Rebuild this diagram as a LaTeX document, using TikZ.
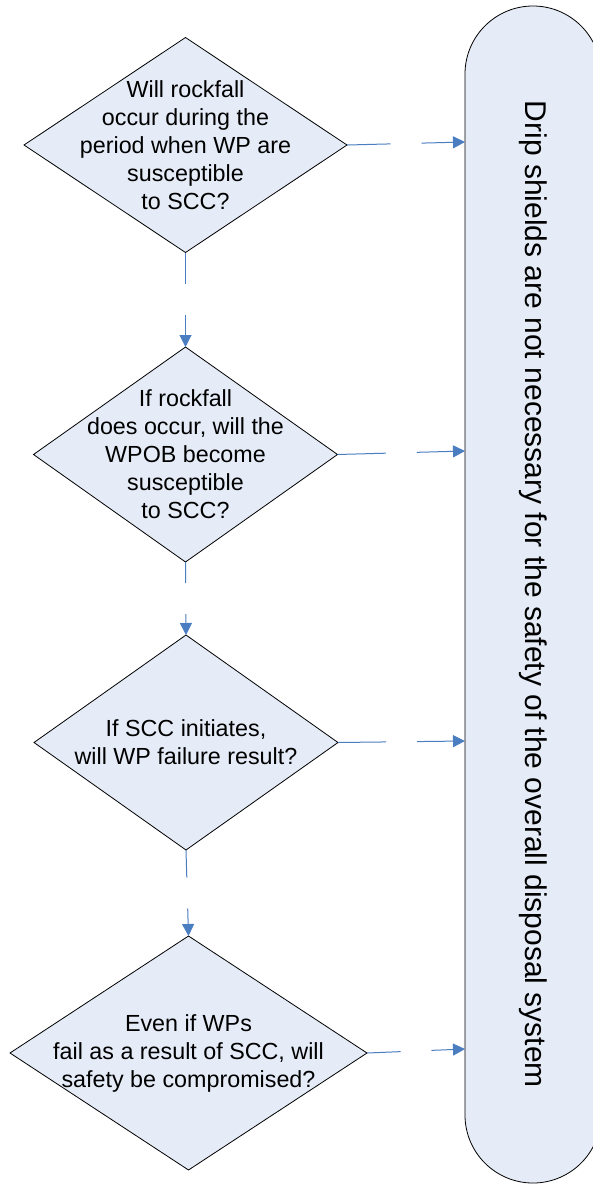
\documentclass[tikz,border=0pt]{standalone}
\usepackage{fontspec}
\setmainfont{Liberation Sans}
\usetikzlibrary{shapes.geometric,shapes.misc,arrows.meta,calc}
\definecolor{shapefill}{RGB}{229,236,247}
\definecolor{connblue}{RGB}{74,126,193}
\begin{document}
\begin{tikzpicture}[x=1pt,y=-1pt,
  decision/.style={diamond, draw=black, line width=0.8pt, fill=shapefill, outer sep=0pt,
    inner xsep=-50pt, inner ysep=-40pt, align=center, font=\fontsize{23.3pt}{28pt}\selectfont},
  terminal/.style={rounded rectangle, draw=black, line width=0.8pt, fill=shapefill, outer sep=0pt,
    inner sep=0pt, rotate=-90, minimum width=1177pt, minimum height=136pt,
    font=\fontsize{30pt}{36pt}\selectfont},
  flow/.style={draw=connblue, line width=1pt, -{Triangle[length=12pt,width=12pt]}},
  gapped/.style={to path={(\tikztostart) -- ($(\tikztostart)!.5!(\tikztotarget)!15.5pt!(\tikztostart)$)
    ($(\tikztostart)!.5!(\tikztotarget)!15.5pt!(\tikztotarget)$) -- (\tikztotarget)}}]
\useasboundingbox (0,0) rectangle (593,1184);
\fill[white] (0,0) rectangle (593,1184);
\clip (0,0) rectangle (593,1184);

\node[terminal] (box) at (533,594.5) {Drip shields are not necessary for the safety of the overall disposal system};

\node[decision, minimum width=323pt, minimum height=215pt] (d1) at (185.5,145)
  {Will rockfall\\occur during the\\period when WP are\\susceptible\\to SCC?};
\node[decision, minimum width=304pt, minimum height=215pt] (d2) at (185.5,454.5)
  {If rockfall\\does occur, will the\\WPOB become\\susceptible\\to SCC?};
\node[decision, minimum width=304pt, minimum height=215pt] (d3) at (186,742.5)
  {If SCC initiates,\\will WP failure result?};
\node[decision, minimum width=357pt, minimum height=234pt] (d4) at (188.5,1053)
  {Even if WPs\\fail as a result of SCC, will\\safety be compromised?};

\coordinate (t1) at ($(d1.east -| box.south)+(0,-3)$);
\coordinate (t2) at ($(d2.east -| box.south)+(0,-3.5)$);
\coordinate (t3) at ($(d3.east -| box.south)+(0,-1.5)$);
\coordinate (t4) at ($(d4.east -| box.south)+(0,-4)$);

\draw[flow] (d1.south) to[gapped] (d2.north);
\draw[flow] (d2.south) to[gapped] (d3.north);
\draw[flow] (d3.south) to[gapped] (d4.north);

\draw[flow] (d1.east) to[gapped] (t1);
\draw[flow] (d2.east) to[gapped] (t2);
\draw[flow] (d3.east) to[gapped] (t3);
\draw[flow] (d4.east) to[gapped] (t4);
\end{tikzpicture}
\end{document}
